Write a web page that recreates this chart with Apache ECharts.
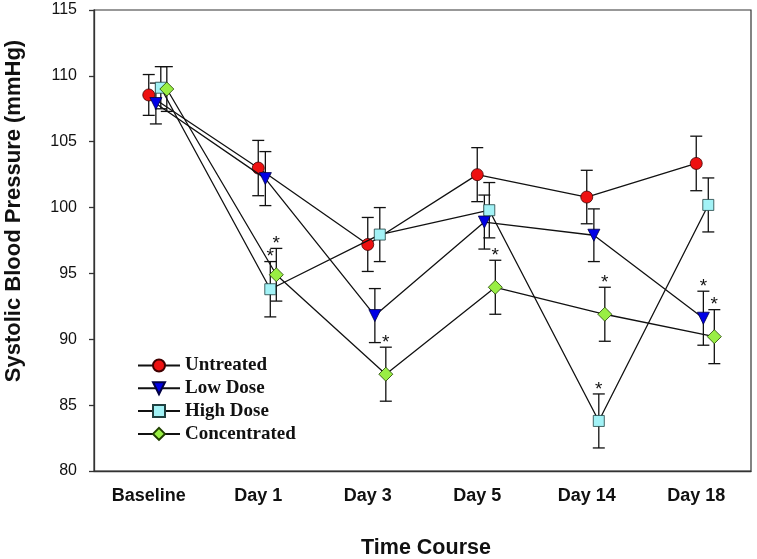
<!DOCTYPE html>
<html>
<head>
<meta charset="utf-8">
<script src="https://cdn.jsdelivr.net/npm/echarts@6/dist/echarts.min.js"></script>
<style>
html,body{margin:0;padding:0;background:#fff;}
#chart{width:757px;height:559px;}
</style>
</head>
<body>
<div id="chart"></div>
<script>
// ---- Data ----
const categories = ['Baseline', 'Day 1', 'Day 3', 'Day 5', 'Day 14', 'Day 18'];

const untreated      = [108.55, 103.0, 97.2, 102.5, 100.8, 103.35];
const untreatedSE    = [1.55, 2.1, 2.05, 2.05, 2.03, 2.07];
const untreatedSig   = [0, 0, 0, 0, 0, 0];

const lowDose        = [107.9, 102.2, 91.8, 98.9, 97.9, 91.6];
const lowDoseSE      = [1.55, 2.05, 2.05, 2.05, 2.0, 2.05];
const lowDoseSig     = [0, 0, 0, 0, 0, 1];

const highDose       = [109.1, 93.8, 97.95, 99.8, 83.8, 100.2];
const highDoseSE     = [1.6, 2.1, 2.05, 2.1, 2.05, 2.05];
const highDoseSig    = [0, 1, 0, 0, 1, 0];

const concentrated   = [109.0, 94.9, 87.35, 93.95, 91.9, 90.2];
const concentratedSE = [1.7, 2.0, 2.05, 2.05, 2.05, 2.05];
const concentratedSig= [0, 1, 1, 1, 1, 1];

const seriesNames = ['Untreated', 'Low Dose', 'High Dose', 'Concentrated'];

// ---- Styles ----
const styles = [
  {symbol: 'circle',   size: 12, rotate: 0,   color: '#ee1111', border: '#400000', dx: 0.0},
  {symbol: 'triangle', size: 12, rotate: 180, color: '#0000e6', border: '#000044', dx: 0.065},
  {symbol: 'rect',     size: 11, rotate: 0,   color: '#a2f2f6', border: '#204040', dx: 0.11},
  {symbol: 'diamond',  size: 14, rotate: 0,   color: '#99ee44', border: '#204000', dx: 0.165}
];

const values = [untreated, lowDose, highDose, concentrated];
const errors = [untreatedSE, lowDoseSE, highDoseSE, concentratedSE];
const sigs = [untreatedSig, lowDoseSig, highDoseSig, concentratedSig];

const chart = echarts.init(document.getElementById('chart'), null, {renderer: 'canvas'});

const series = [];
values.forEach((vals, s) => {
  const st = styles[s];
  series.push({
    name: seriesNames[s],
    type: 'line',
    xAxisIndex: 1,
    yAxisIndex: 0,
    z: 3 + s,
    data: vals.map((v, i) => [i + st.dx, v]),
    symbol: st.symbol,
    symbolSize: st.size,
    symbolRotate: st.rotate,
    showAllSymbol: true,
    lineStyle: {color: '#111', width: 1.3},
    itemStyle: {color: st.color, borderColor: st.border, borderWidth: 0.8, opacity: 1},
    emphasis: {disabled: true},
    animation: false
  });
  series.push({
    type: 'custom',
    xAxisIndex: 1,
    yAxisIndex: 0,
    z: 2,
    silent: true,
    animation: false,
    data: vals.map((v, i) => [i + st.dx, v - errors[s][i], v + errors[s][i], sigs[s][i]]),
    renderItem: function (params, api) {
      const x = api.value(0);
      const lo = api.coord([x, api.value(1)]);
      const hi = api.coord([x, api.value(2)]);
      const hw = 6;
      const ls = {stroke: '#111', lineWidth: 1.3};
      const children = [
        {type: 'line', shape: {x1: lo[0], y1: lo[1], x2: hi[0], y2: hi[1]}, style: ls},
        {type: 'line', shape: {x1: hi[0] - hw, y1: hi[1], x2: hi[0] + hw, y2: hi[1]}, style: ls},
        {type: 'line', shape: {x1: lo[0] - hw, y1: lo[1], x2: lo[0] + hw, y2: lo[1]}, style: ls}
      ];
      if (api.value(3)) {
        children.push({
          type: 'text',
          style: {
            text: '*', x: hi[0], y: hi[1] + 5,
            textAlign: 'center', textVerticalAlign: 'bottom',
            font: '19px "Liberation Sans", Arial, sans-serif', fill: '#111'
          }
        });
      }
      return {type: 'group', children: children};
    }
  });
});

chart.setOption({
  backgroundColor: '#ffffff',
  animation: false,
  grid: {left: 94, top: 10, width: 657, height: 461, show: true, borderColor: '#333', borderWidth: 1.2, backgroundColor: 'transparent'},
  legend: {
    data: seriesNames,
    orient: 'vertical',
    left: 132,
    top: 351,
    itemWidth: 42,
    itemHeight: 15,
    itemGap: 3.8,
    textStyle: {fontFamily: '"Liberation Serif", "Times New Roman", serif', fontWeight: 'bold', fontSize: 19, color: '#111', lineHeight: 19},
    selectedMode: false
  },
  xAxis: [
    {
      type: 'category',
      data: categories,
      boundaryGap: true,
      axisLine: {onZero: false, lineStyle: {color: '#333', width: 1.3}},
      axisTick: {alignWithLabel: true, length: 7, inside: false, lineStyle: {color: '#333', width: 1.3}},
      axisLabel: {margin: 16, fontFamily: '"Liberation Sans", Arial, sans-serif', fontWeight: 'bold', fontSize: 18, color: '#111'},
      splitLine: {show: false}
    },
    {
      type: 'value',
      min: -0.5,
      max: 5.5,
      show: false,
      axisLine: {onZero: false}
    }
  ],
  yAxis: [{
    type: 'value',
    min: 80,
    max: 115,
    interval: 5,
    axisLine: {show: true, onZero: false, lineStyle: {color: '#333', width: 1.3}},
    axisTick: {show: true, length: 5, lineStyle: {color: '#333', width: 1.3}},
    axisLabel: {margin: 17, fontFamily: '"Liberation Sans", Arial, sans-serif', fontSize: 16, color: '#111'},
    splitLine: {show: false}
  }],
  graphic: [
    {
      type: 'text',
      x: 14, y: 211,
      rotation: Math.PI / 2,
      style: {
        text: 'Systolic Blood Pressure (mmHg)',
        font: 'bold 22px "Liberation Sans", Arial, sans-serif',
        fill: '#111',
        textAlign: 'center',
        textVerticalAlign: 'middle'
      }
    },
    {
      type: 'text',
      x: 426, y: 548,
      style: {
        text: 'Time Course',
        font: 'bold 21.5px "Liberation Sans", Arial, sans-serif',
        fill: '#111',
        textAlign: 'center',
        textVerticalAlign: 'middle'
      }
    }
  ],
  series: series
});
</script>
</body>
</html>
